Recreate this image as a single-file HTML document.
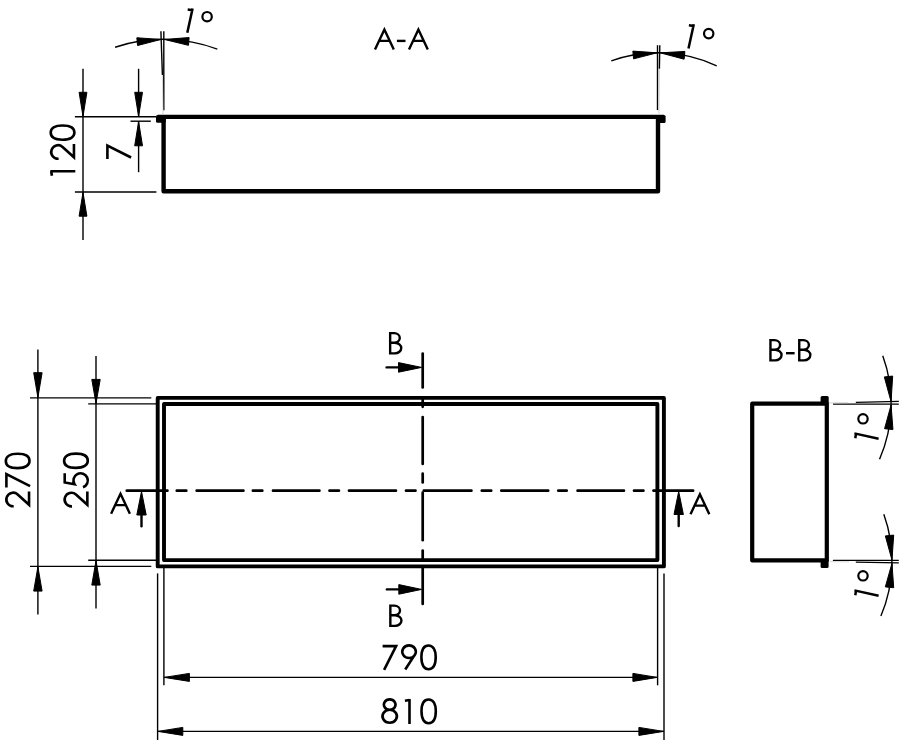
<!DOCTYPE html>
<html><head><meta charset="utf-8"><style>
html,body{margin:0;padding:0;background:#fff;font-family:"Liberation Sans",sans-serif;}
svg{display:block;}
</style></head><body>
<svg width="900" height="740" viewBox="0 0 900 740">
<rect width="900" height="740" fill="#fff"/>
<path d="M157.8,116.9 H663.9 M163.6,116.9 V191.3 H658 V116.9" fill="none" stroke="#000" stroke-width="4.4" stroke-linejoin="round"/>
<rect x="156" y="115" width="9.8" height="7.8" rx="1.6" fill="#000"/>
<rect x="656.2" y="115" width="9.4" height="8" rx="1.6" fill="#000"/>
<line x1="74.90" y1="116.80" x2="156.00" y2="116.80" stroke="#000" stroke-width="1.4" stroke-linecap="butt"/>
<line x1="74.90" y1="192.00" x2="156.40" y2="192.00" stroke="#000" stroke-width="1.4" stroke-linecap="butt"/>
<line x1="130.50" y1="121.20" x2="150.80" y2="121.20" stroke="#000" stroke-width="1.4" stroke-linecap="butt"/>
<line x1="83.00" y1="68.80" x2="83.00" y2="240.00" stroke="#000" stroke-width="1.4" stroke-linecap="butt"/>
<polygon points="83.00,116.35 79.10,92.30 86.90,92.30" fill="#000" stroke="#000" stroke-width="1.0" stroke-linejoin="round"/>
<polygon points="83.00,192.45 86.90,216.20 79.10,216.20" fill="#000" stroke="#000" stroke-width="1.0" stroke-linejoin="round"/>
<line x1="138.60" y1="68.80" x2="138.60" y2="116.80" stroke="#000" stroke-width="1.4" stroke-linecap="butt"/>
<polygon points="138.60,116.35 134.70,92.30 142.50,92.30" fill="#000" stroke="#000" stroke-width="1.0" stroke-linejoin="round"/>
<line x1="138.60" y1="121.20" x2="138.60" y2="172.20" stroke="#000" stroke-width="1.4" stroke-linecap="butt"/>
<polygon points="138.60,121.65 142.50,145.80 134.70,145.80" fill="#000" stroke="#000" stroke-width="1.0" stroke-linejoin="round"/>
<path d="M115.10,47.25 A152.00,152.00 0 0 1 217.30,49.10" fill="none" stroke="#000" stroke-width="1.4"/>
<polygon points="160.85,39.44 137.56,45.54 136.83,37.77" fill="#000" stroke="#000" stroke-width="1.0" stroke-linejoin="round"/>
<polygon points="164.35,39.44 189.12,37.56 188.48,45.33" fill="#000" stroke="#000" stroke-width="1.0" stroke-linejoin="round"/>
<line x1="160.90" y1="31.20" x2="162.40" y2="75.00" stroke="#000" stroke-width="1.4" stroke-linecap="butt"/>
<line x1="163.80" y1="31.20" x2="163.80" y2="110.30" stroke="#000" stroke-width="1.4" stroke-linecap="butt"/>
<line x1="162.40" y1="75.00" x2="163.00" y2="114.60" stroke="#ccc" stroke-width="0.8" stroke-linecap="butt"/>
<path d="M611.30,60.82 A138.30,138.30 0 0 1 716.70,65.78" fill="none" stroke="#000" stroke-width="1.4"/>
<polygon points="657.15,52.84 633.55,58.87 632.85,51.10" fill="#000" stroke="#000" stroke-width="1.0" stroke-linejoin="round"/>
<polygon points="660.25,52.85 684.90,51.43 684.11,59.19" fill="#000" stroke="#000" stroke-width="1.0" stroke-linejoin="round"/>
<line x1="657.50" y1="45.20" x2="657.50" y2="110.10" stroke="#000" stroke-width="1.4" stroke-linecap="butt"/>
<line x1="659.80" y1="45.20" x2="659.40" y2="68.80" stroke="#000" stroke-width="1.4" stroke-linecap="butt"/>
<line x1="659.40" y1="68.80" x2="658.90" y2="114.60" stroke="#ccc" stroke-width="0.9" stroke-linecap="butt"/>
<rect x="157.7" y="397.9" width="506.2" height="168.5" fill="none" stroke="#000" stroke-width="3.9" stroke-linejoin="round"/>
<rect x="164" y="404" width="493.4" height="156.1" fill="none" stroke="#000" stroke-width="3.9" stroke-linejoin="round"/>
<line x1="30.00" y1="397.90" x2="151.30" y2="397.90" stroke="#000" stroke-width="1.4" stroke-linecap="butt"/>
<line x1="88.20" y1="403.90" x2="156.00" y2="403.90" stroke="#000" stroke-width="1.4" stroke-linecap="butt"/>
<line x1="88.20" y1="560.20" x2="156.00" y2="560.20" stroke="#000" stroke-width="1.4" stroke-linecap="butt"/>
<line x1="30.00" y1="566.40" x2="151.30" y2="566.40" stroke="#000" stroke-width="1.4" stroke-linecap="butt"/>
<line x1="163.90" y1="568.00" x2="163.90" y2="685.30" stroke="#000" stroke-width="1.4" stroke-linecap="butt"/>
<line x1="157.60" y1="573.40" x2="157.60" y2="740.00" stroke="#000" stroke-width="1.4" stroke-linecap="butt"/>
<line x1="657.60" y1="568.00" x2="657.60" y2="685.30" stroke="#000" stroke-width="1.4" stroke-linecap="butt"/>
<line x1="664.00" y1="573.40" x2="664.00" y2="740.00" stroke="#000" stroke-width="1.4" stroke-linecap="butt"/>
<line x1="37.90" y1="349.60" x2="37.90" y2="614.40" stroke="#000" stroke-width="1.4" stroke-linecap="butt"/>
<polygon points="37.90,397.45 33.70,372.70 42.10,372.70" fill="#000" stroke="#000" stroke-width="1.0" stroke-linejoin="round"/>
<polygon points="37.90,566.85 42.10,591.10 33.70,591.10" fill="#000" stroke="#000" stroke-width="1.0" stroke-linejoin="round"/>
<line x1="96.00" y1="356.00" x2="96.00" y2="608.40" stroke="#000" stroke-width="1.4" stroke-linecap="butt"/>
<polygon points="96.00,403.45 91.80,379.40 100.20,379.40" fill="#000" stroke="#000" stroke-width="1.0" stroke-linejoin="round"/>
<polygon points="96.00,560.65 100.20,585.10 91.80,585.10" fill="#000" stroke="#000" stroke-width="1.0" stroke-linejoin="round"/>
<line x1="163.90" y1="677.40" x2="657.60" y2="677.40" stroke="#000" stroke-width="1.4" stroke-linecap="butt"/>
<polygon points="164.35,677.40 189.40,673.40 189.40,681.40" fill="#000" stroke="#000" stroke-width="1.0" stroke-linejoin="round"/>
<polygon points="657.15,677.40 632.90,681.40 632.90,673.40" fill="#000" stroke="#000" stroke-width="1.0" stroke-linejoin="round"/>
<line x1="157.60" y1="731.40" x2="664.00" y2="731.40" stroke="#000" stroke-width="1.4" stroke-linecap="butt"/>
<polygon points="158.05,731.40 182.80,727.40 182.80,735.40" fill="#000" stroke="#000" stroke-width="1.0" stroke-linejoin="round"/>
<polygon points="663.55,731.40 638.90,735.40 638.90,727.40" fill="#000" stroke="#000" stroke-width="1.0" stroke-linejoin="round"/>
<line x1="126.80" y1="490.70" x2="167.40" y2="490.70" stroke="#000" stroke-width="2.7" stroke-linecap="round"/>
<line x1="176.80" y1="490.70" x2="186.30" y2="490.70" stroke="#000" stroke-width="2.7" stroke-linecap="round"/>
<line x1="196.70" y1="490.70" x2="243.40" y2="490.70" stroke="#000" stroke-width="2.7" stroke-linecap="round"/>
<line x1="252.90" y1="490.70" x2="262.30" y2="490.70" stroke="#000" stroke-width="2.7" stroke-linecap="round"/>
<line x1="273.00" y1="490.70" x2="319.40" y2="490.70" stroke="#000" stroke-width="2.7" stroke-linecap="round"/>
<line x1="329.50" y1="490.70" x2="338.90" y2="490.70" stroke="#000" stroke-width="2.7" stroke-linecap="round"/>
<line x1="349.00" y1="490.70" x2="395.90" y2="490.70" stroke="#000" stroke-width="2.7" stroke-linecap="round"/>
<line x1="406.00" y1="490.70" x2="415.50" y2="490.70" stroke="#000" stroke-width="2.7" stroke-linecap="round"/>
<line x1="423.80" y1="490.70" x2="471.40" y2="490.70" stroke="#000" stroke-width="2.7" stroke-linecap="round"/>
<line x1="481.80" y1="490.70" x2="491.20" y2="490.70" stroke="#000" stroke-width="2.7" stroke-linecap="round"/>
<line x1="501.30" y1="490.70" x2="548.20" y2="490.70" stroke="#000" stroke-width="2.7" stroke-linecap="round"/>
<line x1="558.30" y1="490.70" x2="566.70" y2="490.70" stroke="#000" stroke-width="2.7" stroke-linecap="round"/>
<line x1="577.60" y1="490.70" x2="623.90" y2="490.70" stroke="#000" stroke-width="2.7" stroke-linecap="round"/>
<line x1="634.00" y1="490.70" x2="643.40" y2="490.70" stroke="#000" stroke-width="2.7" stroke-linecap="round"/>
<line x1="653.50" y1="490.70" x2="693.10" y2="490.70" stroke="#000" stroke-width="2.7" stroke-linecap="round"/>
<line x1="422.70" y1="353.60" x2="422.70" y2="387.50" stroke="#000" stroke-width="2.7" stroke-linecap="round"/>
<line x1="422.70" y1="398.10" x2="422.70" y2="406.80" stroke="#000" stroke-width="2.7" stroke-linecap="round"/>
<line x1="422.70" y1="417.00" x2="422.70" y2="463.90" stroke="#000" stroke-width="2.7" stroke-linecap="round"/>
<line x1="422.70" y1="473.70" x2="422.70" y2="482.40" stroke="#000" stroke-width="2.7" stroke-linecap="round"/>
<line x1="422.70" y1="492.70" x2="422.70" y2="540.20" stroke="#000" stroke-width="2.7" stroke-linecap="round"/>
<line x1="422.70" y1="550.60" x2="422.70" y2="560.20" stroke="#000" stroke-width="2.7" stroke-linecap="round"/>
<line x1="422.70" y1="566.80" x2="422.70" y2="603.90" stroke="#000" stroke-width="2.7" stroke-linecap="round"/>
<line x1="141.50" y1="515.00" x2="141.50" y2="526.30" stroke="#000" stroke-width="2.4" stroke-linecap="round"/>
<polygon points="141.50,491.45 146.20,515.00 136.80,515.00" fill="#000" stroke="#000" stroke-width="1.0" stroke-linejoin="round"/>
<line x1="678.70" y1="515.00" x2="678.70" y2="526.00" stroke="#000" stroke-width="2.4" stroke-linecap="round"/>
<polygon points="678.70,491.45 683.40,514.50 674.00,514.50" fill="#000" stroke="#000" stroke-width="1.0" stroke-linejoin="round"/>
<line x1="386.60" y1="367.40" x2="399.00" y2="367.40" stroke="#000" stroke-width="2.4" stroke-linecap="round"/>
<polygon points="421.55,367.40 398.50,372.20 398.50,362.60" fill="#000" stroke="#000" stroke-width="1.0" stroke-linejoin="round"/>
<line x1="386.90" y1="589.40" x2="399.00" y2="589.40" stroke="#000" stroke-width="2.4" stroke-linecap="round"/>
<polygon points="421.55,589.40 398.80,594.20 398.80,584.60" fill="#000" stroke="#000" stroke-width="1.0" stroke-linejoin="round"/>
<rect x="752.2" y="403.7" width="74.6" height="156.7" fill="none" stroke="#000" stroke-width="4.2" stroke-linejoin="round"/>
<rect x="820.6" y="396.1" width="8.1" height="8.5" rx="1.5" fill="#000"/>
<rect x="820.6" y="559" width="8.0" height="9.0" rx="1.5" fill="#000"/>
<line x1="833.00" y1="404.10" x2="898.80" y2="404.10" stroke="#000" stroke-width="1.4" stroke-linecap="butt"/>
<line x1="855.80" y1="402.40" x2="898.80" y2="401.40" stroke="#000" stroke-width="1.4" stroke-linecap="butt"/>
<line x1="829.00" y1="402.90" x2="848.00" y2="402.70" stroke="#ccc" stroke-width="0.8" stroke-linecap="butt"/>
<line x1="832.90" y1="560.40" x2="898.80" y2="560.40" stroke="#000" stroke-width="1.4" stroke-linecap="butt"/>
<line x1="855.80" y1="562.10" x2="898.80" y2="562.90" stroke="#000" stroke-width="1.4" stroke-linecap="butt"/>
<line x1="830.00" y1="561.60" x2="849.00" y2="561.90" stroke="#ccc" stroke-width="0.8" stroke-linecap="butt"/>
<path d="M882.75,355.80 A138.90,138.90 0 0 1 879.54,459.20" fill="none" stroke="#000" stroke-width="1.4"/>
<polygon points="891.05,401.55 884.32,376.92 892.68,376.07" fill="#000" stroke="#000" stroke-width="1.0" stroke-linejoin="round"/>
<polygon points="891.06,405.05 892.95,429.50 884.59,428.71" fill="#000" stroke="#000" stroke-width="1.0" stroke-linejoin="round"/>
<path d="M883.82,514.30 A139.70,139.70 0 0 1 880.89,616.00" fill="none" stroke="#000" stroke-width="1.4"/>
<polygon points="891.96,560.05 885.35,535.91 893.71,535.08" fill="#000" stroke="#000" stroke-width="1.0" stroke-linejoin="round"/>
<polygon points="891.95,563.45 893.71,587.73 885.35,586.88" fill="#000" stroke="#000" stroke-width="1.0" stroke-linejoin="round"/>
<g transform="translate(382.60,644.80) rotate(0) scale(1.0)" fill="none" stroke="#000" stroke-width="2.600" stroke-linecap="butt" stroke-linejoin="miter" stroke-miterlimit="10"><path transform="translate(0.00,0)" d="M0,1.3 H13.5 L1.5,25.0"/><path transform="translate(18.40,0)" d="M8.05,0.6 a6.75,6.3 0 1,0 0.001,0 z M14.7,8.6 L4.25,24.7"/><path transform="translate(37.50,0)" d="M8.45,0.70 C12.74,0.70 15.60,4.73 15.60,12.55 C15.60,20.37 12.74,24.40 8.45,24.40 C4.16,24.40 1.30,20.37 1.30,12.55 C1.30,4.73 4.16,0.70 8.45,0.70 Z"/></g>
<g transform="translate(381.20,698.80) rotate(0) scale(1.0)" fill="none" stroke="#000" stroke-width="2.600" stroke-linecap="butt" stroke-linejoin="miter" stroke-miterlimit="10"><path transform="translate(0.00,0)" d="M8.5,0.6 a5.8,5.2 0 1,0 0.001,0 z M8.5,11.0 a7.2,6.5 0 1,0 0.001,0 z"/><path transform="translate(23.70,0)" d="M0,1.9 L4.6,1.2 M4.6,0.3 V25.3"/><path transform="translate(39.00,0)" d="M8.45,0.70 C12.74,0.70 15.60,4.73 15.60,12.55 C15.60,20.37 12.74,24.40 8.45,24.40 C4.16,24.40 1.30,20.37 1.30,12.55 C1.30,4.73 4.16,0.70 8.45,0.70 Z"/></g>
<g transform="translate(50.00,175.80) rotate(-90) scale(1.0)" fill="none" stroke="#000" stroke-width="2.600" stroke-linecap="butt" stroke-linejoin="miter" stroke-miterlimit="10"><path transform="translate(0.00,0)" d="M0,1.9 L4.6,1.2 M4.6,0.3 V25.3"/><path transform="translate(15.70,0)" d="M1.35,8.6 A6.8,6.8 0 1,1 13.19,12.56 L2.9,23.95 H16.2"/><path transform="translate(34.75,0)" d="M8.45,0.70 C12.74,0.70 15.60,4.73 15.60,12.55 C15.60,20.37 12.74,24.40 8.45,24.40 C4.16,24.40 1.30,20.37 1.30,12.55 C1.30,4.73 4.16,0.70 8.45,0.70 Z"/></g>
<g transform="translate(5.10,507.60) rotate(-90) scale(1.0)" fill="none" stroke="#000" stroke-width="2.600" stroke-linecap="butt" stroke-linejoin="miter" stroke-miterlimit="10"><path transform="translate(0.00,0)" d="M1.35,8.6 A6.8,6.8 0 1,1 13.19,12.56 L2.9,23.95 H16.2"/><path transform="translate(20.00,0)" d="M0,1.3 H13.5 L1.5,25.0"/><path transform="translate(38.20,0)" d="M8.45,0.70 C12.74,0.70 15.60,4.73 15.60,12.55 C15.60,20.37 12.74,24.40 8.45,24.40 C4.16,24.40 1.30,20.37 1.30,12.55 C1.30,4.73 4.16,0.70 8.45,0.70 Z"/></g>
<g transform="translate(63.40,507.70) rotate(-90) scale(1.0)" fill="none" stroke="#000" stroke-width="2.600" stroke-linecap="butt" stroke-linejoin="miter" stroke-miterlimit="10"><path transform="translate(0.00,0)" d="M1.35,8.6 A6.8,6.8 0 1,1 13.19,12.56 L2.9,23.95 H16.2"/><path transform="translate(19.50,0)" d="M15.0,1.3 H5.7 L3.9,11.1 A7.2,7.2 0 1,1 0.9,19.6"/><path transform="translate(38.50,0)" d="M8.45,0.70 C12.74,0.70 15.60,4.73 15.60,12.55 C15.60,20.37 12.74,24.40 8.45,24.40 C4.16,24.40 1.30,20.37 1.30,12.55 C1.30,4.73 4.16,0.70 8.45,0.70 Z"/></g>
<g transform="translate(106.10,159.00) rotate(-90) scale(1.0)" fill="none" stroke="#000" stroke-width="2.600" stroke-linecap="butt" stroke-linejoin="miter" stroke-miterlimit="10"><path transform="translate(0.00,0)" d="M0,1.3 H13.5 L1.5,25.0"/></g>
<path transform="translate(373.90,26.80) rotate(0) scale(1.0)" d="M1.1,22.7 L10.5,2.8 L19.9,22.7 M4.7,14.1 H16.3" fill="none" stroke="#000" stroke-width="2.400" stroke-linejoin="miter" stroke-linecap="butt" stroke-miterlimit="10"/>
<path transform="translate(396.90,40.90) rotate(0) scale(1.0)" d="M0,0 H8.6" fill="none" stroke="#000" stroke-width="2.400" stroke-linejoin="miter" stroke-linecap="butt" stroke-miterlimit="10"/>
<path transform="translate(407.90,26.80) rotate(0) scale(1.0)" d="M1.1,22.7 L10.5,2.8 L19.9,22.7 M4.7,14.1 H16.3" fill="none" stroke="#000" stroke-width="2.400" stroke-linejoin="miter" stroke-linecap="butt" stroke-miterlimit="10"/>
<path transform="translate(110.00,491.00) rotate(0) scale(1.0)" d="M1.1,22.7 L10.5,2.8 L19.9,22.7 M4.7,14.1 H16.3" fill="none" stroke="#000" stroke-width="2.400" stroke-linejoin="miter" stroke-linecap="butt" stroke-miterlimit="10"/>
<path transform="translate(689.40,491.50) rotate(0) scale(1.0)" d="M1.1,22.7 L10.5,2.8 L19.9,22.7 M4.7,14.1 H16.3" fill="none" stroke="#000" stroke-width="2.400" stroke-linejoin="miter" stroke-linecap="butt" stroke-miterlimit="10"/>
<path transform="translate(389.00,332.00) rotate(0) scale(1.0)" d="M1.15,0 V22.5 M1.15,1.15 H5.2 A5.85,4.78 0 0 1 5.2,10.7 H1.15 M5.2,10.7 H5.9 A6.65,5.33 0 0 1 5.9,21.35 H1.15" fill="none" stroke="#000" stroke-width="2.400" stroke-linejoin="miter" stroke-linecap="butt" stroke-miterlimit="10"/>
<path transform="translate(389.20,604.50) rotate(0) scale(1.0)" d="M1.15,0 V22.5 M1.15,1.15 H5.2 A5.85,4.78 0 0 1 5.2,10.7 H1.15 M5.2,10.7 H5.9 A6.65,5.33 0 0 1 5.9,21.35 H1.15" fill="none" stroke="#000" stroke-width="2.400" stroke-linejoin="miter" stroke-linecap="butt" stroke-miterlimit="10"/>
<path transform="translate(769.30,339.00) rotate(0) scale(1.0)" d="M1.15,0 V22.5 M1.15,1.15 H5.2 A5.85,4.78 0 0 1 5.2,10.7 H1.15 M5.2,10.7 H5.9 A6.65,5.33 0 0 1 5.9,21.35 H1.15" fill="none" stroke="#000" stroke-width="2.400" stroke-linejoin="miter" stroke-linecap="butt" stroke-miterlimit="10"/>
<path transform="translate(786.00,353.20) rotate(0) scale(1.0)" d="M0,0 H8.6" fill="none" stroke="#000" stroke-width="2.400" stroke-linejoin="miter" stroke-linecap="butt" stroke-miterlimit="10"/>
<path transform="translate(798.10,339.00) rotate(0) scale(1.0)" d="M1.15,0 V22.5 M1.15,1.15 H5.2 A5.85,4.78 0 0 1 5.2,10.7 H1.15 M5.2,10.7 H5.9 A6.65,5.33 0 0 1 5.9,21.35 H1.15" fill="none" stroke="#000" stroke-width="2.400" stroke-linejoin="miter" stroke-linecap="butt" stroke-miterlimit="10"/>
<path transform="translate(187.30,32.80) rotate(0) scale(1.0)" d="M0,0 L5.3,-24.2 M0.4,-23.3 L5.2,-22.6" fill="none" stroke="#000" stroke-width="2.500" stroke-linejoin="miter" stroke-linecap="butt" stroke-miterlimit="10"/>
<circle cx="207.10" cy="16.70" r="4.7" fill="none" stroke="#000" stroke-width="2.2"/>
<path transform="translate(688.50,48.50) rotate(0) scale(1.0)" d="M0,0 L5.3,-24.2 M0.4,-23.3 L5.2,-22.6" fill="none" stroke="#000" stroke-width="2.500" stroke-linejoin="miter" stroke-linecap="butt" stroke-miterlimit="10"/>
<circle cx="708.70" cy="33.60" r="4.7" fill="none" stroke="#000" stroke-width="2.2"/>
<path transform="translate(878.60,438.70) rotate(-90) scale(1.0)" d="M0,0 L5.3,-24.2 M0.4,-23.3 L5.2,-22.6" fill="none" stroke="#000" stroke-width="2.500" stroke-linejoin="miter" stroke-linecap="butt" stroke-miterlimit="10"/>
<circle cx="863.00" cy="418.80" r="4.7" fill="none" stroke="#000" stroke-width="2.2"/>
<path transform="translate(878.60,595.70) rotate(-90) scale(1.0)" d="M0,0 L5.3,-24.2 M0.4,-23.3 L5.2,-22.6" fill="none" stroke="#000" stroke-width="2.500" stroke-linejoin="miter" stroke-linecap="butt" stroke-miterlimit="10"/>
<circle cx="863.00" cy="575.80" r="4.7" fill="none" stroke="#000" stroke-width="2.2"/>
</svg>
</body></html>
